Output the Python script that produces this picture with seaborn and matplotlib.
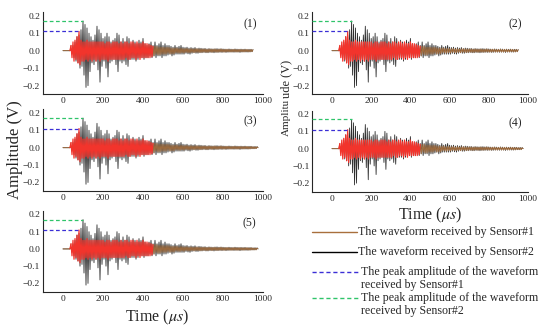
import numpy as np
import seaborn as sns
import matplotlib.pyplot as plt
from matplotlib.lines import Line2D

sns.set_style('white')
plt.rcParams['font.family'] = ['Liberation Serif', 'DejaVu Serif']
plt.rcParams['mathtext.fontset'] = 'stix'

# sampling step of the recorded waveforms (us)
step = 5
# Sensor#2 waveform (V), one value every 5 us from t=0
sensor2 = [0, 0, 0, 0, 0, 0, 0, 0, 0.01, -0.02,
           0.03, -0.04, 0.05, -0.06, 0.08, -0.07, 0.09, -0.1, 0.12, -0.09,
           0.17, -0.14, 0.15, -0.21, 0.13, -0.2, 0.1, -0.12, 0.08, -0.07,
           0.06, -0.08, 0.09, -0.06, 0.14, -0.11, 0.12, -0.18, 0.1, -0.09,
           0.07, -0.06, 0.08, -0.1, 0.1, -0.15, 0.08, -0.07, 0.05, -0.06,
           0.06, -0.05, 0.07, -0.08, 0.1, -0.12, 0.09, -0.06, 0.05, -0.07,
           0.07, -0.06, 0.05, -0.08, 0.08, -0.09, 0.07, -0.05, 0.04, -0.05,
           0.06, -0.05, 0.05, -0.06, 0.04, -0.05, 0.06, -0.04, 0.05, -0.04,
           0.07, -0.05, 0.04, -0.04, 0.03, -0.04, 0.04, -0.03, 0.05, -0.04,
           0.03, -0.03, 0.05, -0.04, 0.03, -0.03, 0.04, -0.03, 0.05, -0.04,
           0.03, -0.03, 0.04, -0.03, 0.03, -0.025, 0.03, -0.02, 0.025, -0.03,
           0.02, -0.025, 0.03, -0.02, 0.02, -0.02, 0.025, -0.02, 0.03, -0.02,
           0.02, -0.02, 0.018, -0.015, 0.02, -0.018, 0.015, -0.02, 0.018, -0.015,
           0.015, -0.012, 0.018, -0.015, 0.012, -0.015, 0.015, -0.012, 0.014, -0.012,
           0.012, -0.01, 0.013, -0.012, 0.01, -0.012, 0.012, -0.01, 0.011, -0.01,
           0.01, -0.012, 0.011, -0.01, 0.012, -0.01, 0.01, -0.009, 0.011, -0.01,
           0.01, -0.008, 0.009, -0.01, 0.008, -0.009, 0.01, -0.008, 0.009, -0.008,
           0.008, -0.009, 0.01, -0.008, 0.009, -0.008, 0.008, -0.01, 0.009, -0.008,
           0.008, -0.007, 0.009, -0.008, 0.007, -0.008, 0.008, -0.007, 0.008, -0.006,
           0.006, -0.006, 0.007, -0.005, 0.006, 0.0]
# Sensor#1 waveform (V)
sensor1 = [0, 0, 0, 0, 0, 0, 0, 0, 0.03, -0.04,
           0.05, -0.06, 0.06, -0.05, 0.08, -0.07, 0.11, -0.08, 0.06, -0.06,
           0.05, -0.06, 0.05, -0.05, 0.06, -0.06, 0.05, -0.05, 0.05, -0.06,
           0.05, -0.05, 0.05, -0.06, 0.05, -0.05, 0.05, -0.06, 0.05, -0.05,
           0.05, -0.05, 0.04, -0.05, 0.05, -0.06, 0.05, -0.05, 0.04, -0.05,
           0.05, -0.05, 0.05, -0.05, 0.05, -0.05, 0.04, -0.05, 0.05, -0.05,
           0.04, -0.05, 0.05, -0.04, 0.05, -0.05, 0.04, -0.05, 0.05, -0.04,
           0.05, -0.04, 0.04, -0.05, 0.05, -0.04, 0.04, -0.05, 0.04, -0.04,
           0.05, -0.04, 0.04, -0.04, 0.04, -0.04, 0.035, -0.04, 0.03, -0.035,
           0.025, -0.03, 0.025, -0.02, 0.025, -0.025, 0.02, -0.025, 0.02, -0.02,
           0.02, -0.02, 0.018, -0.02, 0.02, -0.015, 0.018, -0.02, 0.015, -0.018,
           0.015, -0.018, 0.015, -0.012, 0.016, -0.014, 0.012, -0.015, 0.014, -0.012,
           0.012, -0.014, 0.012, -0.01, 0.013, -0.012, 0.01, -0.012, 0.012, -0.01,
           0.01, -0.012, 0.011, -0.01, 0.012, -0.01, 0.01, -0.011, 0.01, -0.01,
           0.01, -0.009, 0.01, -0.01, 0.009, -0.01, 0.01, -0.008, 0.009, -0.01,
           0.009, -0.008, 0.01, -0.009, 0.008, -0.009, 0.009, -0.008, 0.01, -0.008,
           0.008, -0.009, 0.008, -0.008, 0.009, -0.007, 0.008, -0.008, 0.007, -0.008,
           0.008, -0.007, 0.008, -0.008, 0.007, -0.008, 0.008, -0.007, 0.007, -0.007,
           0.007, -0.008, 0.007, -0.006, 0.008, -0.007, 0.006, -0.007, 0.007, -0.006,
           0.006, -0.006, 0.005, -0.006, 0.005, 0.0]

panel_labels = ['(1)', '(2)', '(3)', '(4)', '(5)']
panel_end = [950, 950, 975, 975, 975]
peak1 = [0.11, 0.11, 0.11, 0.11, 0.11]
peak1_t = [85, 85, 85, 85, 85]
peak2 = [0.17, 0.17, 0.17, 0.17, 0.17]
peak2_t = [100, 100, 100, 100, 100]
x_ticks = [0, 200, 400, 600, 800, 1000]
y_ticks = [-0.2, -0.1, 0.0, 0.1, 0.2]
legend_labels = ['The waveform received by Sensor#1',
                 'The waveform received by Sensor#2',
                 'The peak amplitude of the waveform\nreceived by Sensor#1',
                 'The peak amplitude of the waveform\nreceived by Sensor#2']

c_red = '#f2342c'
c_brown = '#a86f3c'
c_gray = '#2e2e2e'
c_blue = '#3b2fd6'
c_green = '#2fc46a'

t = np.arange(len(sensor1)) * step
s1 = np.array(sensor1)
s2 = np.array(sensor2)

W, H = 550, 329
fig = plt.figure(figsize=(5.5, 3.29), dpi=100)
# axes boxes in pixels: left, top, right, bottom
boxes = [(43, 12.2, 263, 94.4), (312.4, 12.2, 528, 94.4),
         (43, 109.4, 263, 191.2), (312.4, 110.7, 528, 191.8),
         (43, 211, 263, 292)]
for i, (l, tp, r, b) in enumerate(boxes):
    ax = fig.add_axes([l / W, 1 - b / H, (r - l) / W, (b - tp) / H])
    keep = t <= panel_end[i]
    sns.lineplot(x=t[keep], y=s2[keep], color=c_gray, lw=0.6, ax=ax)
    dense = keep & (t >= 35) & (t <= 450)
    late = keep & (t >= 450)
    early = t <= 40
    sns.lineplot(x=t[late], y=s1[late], color=c_brown, lw=0.6, ax=ax)
    sns.lineplot(x=t[early], y=s1[early], color=c_brown, lw=0.6, ax=ax)
    sns.lineplot(x=t[dense], y=s1[dense], color=c_red, lw=0.9, ax=ax)
    ax.hlines(peak2[i], -100, peak2_t[i], color=c_green, linestyles=(0, (3, 2)), lw=0.9, zorder=5)
    ax.hlines(peak1[i], -100, peak1_t[i], color=c_blue, linestyles=(0, (3, 2)), lw=0.9, zorder=5)
    ax.set_xlim(-100, 1000)
    ax.set_ylim(-0.25, 0.22)
    ax.set_xticks(x_ticks)
    ax.set_yticks(y_ticks)
    ax.set_yticklabels([f'{v:.1f}'.replace('-', '\u2212') for v in y_ticks])
    ax.set_xticks([-100, 100, 300, 500, 700, 900], minor=True)
    ax.set_yticks([-0.15, -0.05, 0.05, 0.15], minor=True)
    ax.tick_params(which='both', direction='in', labelsize=6.8, pad=2, width=0.6)
    ax.tick_params(which='major', length=2.5)
    ax.tick_params(which='minor', length=1.5)
    sns.despine(ax=ax)
    for sp in ax.spines.values():
        sp.set_linewidth(0.8)
    ax.text(0.94, 0.85, panel_labels[i], transform=ax.transAxes, fontsize=8.5,
            ha='center', va='center')
    ax.set_xlabel('')
    ax.set_ylabel('')

fig.text(15 / W, 1 - 150 / H, 'Amplitude (V)', rotation=90, fontsize=12,
         ha='center', va='center')
# cut-off y labels of the right column
fig.text(286 / W, 1 - 60 / H, 'ude (V)', rotation=90, fontsize=9,
         ha='center', va='top')
fig.text(286 / W, 1 - 99 / H, 'Amplitu', rotation=90, fontsize=8,
         ha='center', va='top')
fig.text(157 / W, 1 - 317 / H, 'Time ($\\mu s$)', fontsize=11.5, ha='center', va='center')
fig.text(430 / W, 1 - 215 / H, 'Time ($\\mu s$)', fontsize=11.5, ha='center', va='center')

# legend drawn by hand to follow the reference spacing
leg_colors = [c_brown, 'black', c_blue, c_green]
leg_styles = ['-', '-', (0, (3, 2)), (0, (3, 2))]
leg_y = [232, 252, 272, 298]
leg_hend = [357, 357, 360, 360]
for lab, col, ls, y, he in zip(legend_labels, leg_colors, leg_styles, leg_y, leg_hend):
    fig.add_artist(Line2D([312 / W, he / W], [1 - y / H, 1 - y / H], color=col, lw=1.0,
                          ls=ls, transform=fig.transFigure))
    fig.text((he + 1) / W, 1 - (y - 6.5) / H, lab, fontsize=8.6, ha='left', va='top',
             linespacing=1.15)

fig.savefig('out.png', dpi=100)
